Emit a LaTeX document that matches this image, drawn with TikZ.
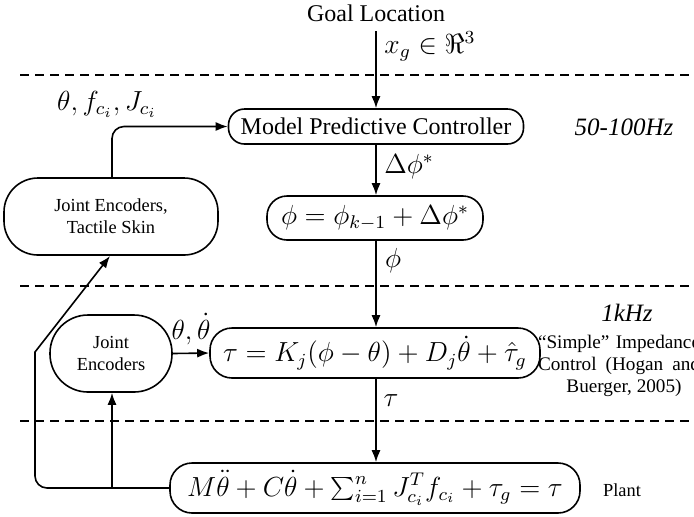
\documentclass[tikz,border=0pt]{standalone}
\usepackage{fontspec}
\setmainfont{Liberation Serif}
\usetikzlibrary{arrows.meta,calc}
\newcommand{\eqszbox}[1]{\scalebox{1.15}{$#1$}}
\begin{document}
\begin{tikzpicture}[x=0.5pt,y=-0.5pt,
  every node/.style={font=\fontsize{12}{14}\selectfont},
  line/.style={line width=0.8pt},
  arr/.style={line width=0.8pt,-{Latex[length=6pt,width=4.5pt]}},
  sep/.style={line width=0.8pt,dash pattern=on 4.5pt off 3pt},
  blk/.style={draw,line width=0.8pt,inner sep=1pt,align=center},
  small/.style={font=\fontsize{9.2}{11}\selectfont,align=center},
  rate/.style={font=\fontsize{12.5}{14}\selectfont\itshape}]
\useasboundingbox (0,0) rectangle (694,516);
% separators
\draw[sep] (20,75) -- (700,75);
\draw[sep] (20,286) -- (700,286);
\draw[sep] (20,421) -- (700,421);
% nodes
\node (goal) at (376,13) {Goal Location};
\node[blk,rounded corners=8pt,minimum width=147.5pt,minimum height=17.5pt] (mpc) at (376,126.5) {Model Predictive Controller};
\node[blk,rounded corners=10pt,minimum width=108pt,minimum height=22pt] (phi) at (375,218) {\eqszbox{\phi=\phi_{k-1}+\Delta\phi^{*}}};
\node[blk,rounded corners=11pt,minimum width=165pt,minimum height=25pt] (tau) at (375,353) {\eqszbox{\tau=K_j(\phi-\theta)+D_j\dot{\theta}+\hat{\tau}_g}};
\node[blk,rounded corners=11pt,minimum width=205pt,minimum height=25pt] (plant) at (375,488) {\eqszbox{M\ddot{\theta}+C\dot{\theta}+\sum_{i=1}^{n}J_{c_i}^{T}f_{c_i}+\tau_g=\tau}};
\node[blk,small,rounded corners=17pt,minimum width=107pt,minimum height=38.5pt] (jets) at (111,216.5) {Joint Encoders,\\Tactile Skin};
\node[blk,small,rounded corners=19pt,minimum width=61pt,minimum height=38.5pt] (je) at (111,353.5) {Joint\\Encoders};
% side texts
\node[rate] (r1) at (624,127) {50-100Hz};
\node[rate] (r2) at (627,313) {1kHz};
\node[small,font=\fontsize{9.6}{11}\selectfont] (imp) at (619,366) {\makebox[81pt][s]{``Simple'' Impedance}\\\makebox[81pt][s]{Control (Hogan and}\\\makebox[81pt][c]{\hspace{5pt}Buerger, 2005)}};
\node[small] (plt) at (622,490) {Plant};
% connectors
\coordinate (gtop) at (376,31);
\draw[arr] (gtop) -- (mpc.north -| gtop);
\node (lxg) at (430,46) {\eqszbox{x_g\in\Re^{3}}};
\draw[arr] (mpc.south -| gtop) -- (phi.north -| gtop);
\node (ldp) at (409,167) {\eqszbox{\Delta\phi^{*}}};
\draw[arr] (phi.south -| gtop) -- (tau.north -| gtop);
\node (lphi) at (393,261) {\eqszbox{\phi}};
\draw[arr] (tau.south -| gtop) -- (plant.north -| gtop);
\node (ltau) at (391,401) {\eqszbox{\tau}};
\coordinate (jt) at (112,178);
\draw[arr,rounded corners=6pt] (jt) |- (mpc.west);
\node (lf) at (107,104) {\eqszbox{\theta, f_{c_i}, J_{c_i}}};
\draw[arr] (je.east) -- (tau.west);
\node (lth) at (191,329) {\eqszbox{\theta,\dot{\theta}}};
\coordinate (fbl) at (35,488);
\coordinate (fbk) at (35,352);
\coordinate (jb) at (110,256);
\draw[line,rounded corners=6pt] (plant.west) -- (fbl) -- (35,420);
\draw[arr] (35,420) -- (fbk) -- (jb);
\coordinate (br) at (112,488);
\draw[arr] (br) -- (je.south -| br);
\end{tikzpicture}
\end{document}
